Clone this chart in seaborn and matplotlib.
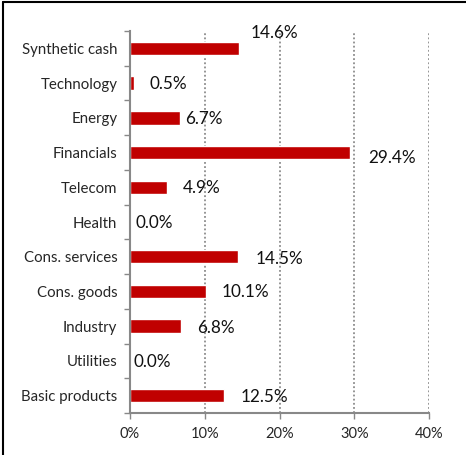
import matplotlib
matplotlib.use("Agg")
import matplotlib.pyplot as plt
from matplotlib.lines import Line2D
from matplotlib.ticker import FixedLocator, FuncFormatter
import seaborn as sns
import pandas as pd

# Sector weights (%)
sectors = ['Synthetic cash', 'Technology', 'Energy', 'Financials', 'Telecom',
           'Health', 'Cons. services', 'Cons. goods', 'Industry', 'Utilities',
           'Basic products']
weights = [14.6, 0.5, 6.7, 29.4, 4.9, 0.0, 14.5, 10.1, 6.8, 0.0, 12.5]
x_ticks = [0, 10, 20, 30, 40]

# label nudges in pixels (dx, dy) to mimic the manual placement
label_dx = [11, 16, 5, 18, 16, 6, 17, 16, 16, 3, 17]
label_dy = [15, -1, -1, -5, -1, -1, -2, -1, -2, -1, -1]

bar_color = '#C00000'
axis_gray = '#888888'

sns.set_theme(style="white")
plt.rcParams['font.family'] = ['Lato', 'DejaVu Sans']

df = pd.DataFrame({'Sector': sectors, 'Weight': weights})

fig = plt.figure(figsize=(4.66, 4.55), dpi=100)
ax = fig.add_axes([130 / 466, 1 - 413 / 455, 299.3 / 466, 382 / 455])

sns.barplot(data=df, x='Weight', y='Sector', orient='h', color=bar_color,
            width=0.39, saturation=1, ax=ax)

ax.set_xlim(0, 40)
ax.set_ylim(len(sectors) - 0.5, -0.5)
ax.set_xlabel('')
ax.set_ylabel('')

ax.xaxis.set_major_locator(FixedLocator(x_ticks))
ax.xaxis.set_major_formatter(FuncFormatter(lambda v, p: f"{v:.0f}%"))
ax.tick_params(axis='x', which='major', length=4, width=1, color=axis_gray,
               direction='out', labelsize=10.5, pad=6, bottom=True)
ax.tick_params(axis='y', which='major', length=0, labelsize=10.8, pad=9)
ax.yaxis.set_minor_locator(FixedLocator([i + 0.5 for i in range(-1, len(sectors))]))
ax.tick_params(axis='y', which='minor', length=4.5, width=1, color=axis_gray,
               direction='out', left=True)

for s in ['top', 'right']:
    ax.spines[s].set_visible(False)
for s in ['left', 'bottom']:
    ax.spines[s].set_color(axis_gray)
    ax.spines[s].set_linewidth(1.5)

for t in x_ticks[1:]:
    ax.axvline(t, color='#8c8c8c', linestyle=(0, (1, 1.3)), linewidth=1.3, zorder=0)

for i, (w, dx, dy) in enumerate(zip(weights, label_dx, label_dy)):
    ax.annotate(f"{w:.1f}%", xy=(w, i), xytext=(dx, dy), textcoords='offset pixels',
                ha='left', va='center', fontsize=12.3, color='#111111')

# border lines on left and top of the frame
fig.add_artist(Line2D([3 / 466, 3 / 466], [0, 1 - 2 / 455], color='black', linewidth=1.5))
fig.add_artist(Line2D([3 / 466, 1], [1 - 2 / 455, 1 - 2 / 455], color='black', linewidth=1.5))

fig.savefig('out.png', dpi=100)
